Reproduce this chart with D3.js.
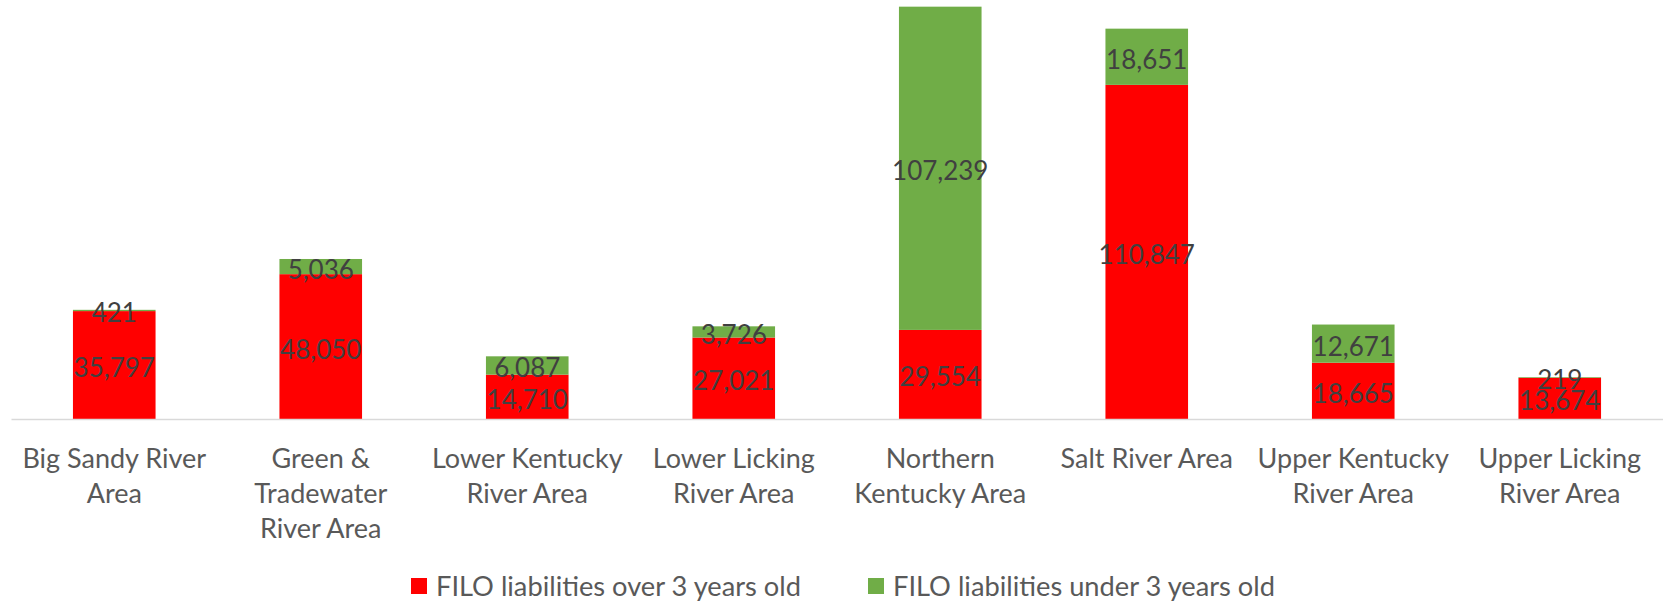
<!DOCTYPE html>
<html>
<head>
<meta charset="utf-8">
<script src="https://cdn.jsdelivr.net/npm/d3@7"></script>
<style>
  body { margin: 0; background: #fff; }
  svg { display: block; }
</style>
</head>
<body>
<svg id="chart"></svg>
<script>
// data
const categories = [
  "Big Sandy River|Area",
  "Green &|Tradewater|River Area",
  "Lower Kentucky|River Area",
  "Lower Licking|River Area",
  "Northern|Kentucky Area",
  "Salt River Area",
  "Upper Kentucky|River Area",
  "Upper Licking|River Area"
];
const overThree = [35797, 48050, 14710, 27021, 29554, 110847, 18665, 13674];
const underThree = [421, 5036, 6087, 3726, 107239, 18651, 12671, 219];
const seriesNames = ["FILO liabilities over 3 years old", "FILO liabilities under 3 years old"];
const seriesColors = ["#ff0000", "#70ad47"];

const width = 1663, height = 604;
const baseY = 419;
const font = "Lato, 'Liberation Sans', sans-serif";

const svg = d3.select("#chart")
    .attr("width", width)
    .attr("height", height);

// table for the stack layout
const rows = categories.map((c, i) => ({ cat: c, over: overThree[i], under: underThree[i] }));
const stack = d3.stack().keys(["over", "under"]);
const layers = stack(rows);

const x = d3.scaleBand()
    .domain(categories)
    .range([11, 1663])
    .paddingInner(0.6)
    .paddingOuter(0.3);

const y = d3.scaleLinear()
    .domain([0, 140000])
    .range([baseY, -3]);

// bars
const layer = svg.append("g")
    .selectAll("g")
    .data(layers)
    .join("g")
    .attr("fill", (d, i) => seriesColors[i]);

layer.selectAll("rect")
    .data(d => d)
    .join("rect")
    .attr("x", d => x(d.data.cat))
    .attr("y", d => y(d[1]))
    .attr("width", x.bandwidth())
    .attr("height", d => y(d[0]) - y(d[1]));

// axis
const axis = svg.append("g")
    .attr("transform", `translate(0, ${baseY})`)
    .call(d3.axisBottom(x).tickSize(0).tickSizeOuter(0));

axis.select(".domain")
    .attr("stroke", "#d9d9d9")
    .attr("stroke-width", 1.5);

axis.selectAll(".tick text").each(function(d) {
    let t = d3.select(this);
    t.text("")
        .attr("font-size", 27)
        .attr("font-family", font)
        .attr("fill", "#595959")
        .attr("dy", null);
    d.split("|").forEach((line, k) => {
        t.append("tspan")
            .attr("x", 0)
            .attr("y", 49 + k * 35)
            .text(line);
    });
});

// data labels centred in each segment
const fmt = d3.format(",");
layer.selectAll("text")
    .data(d => d)
    .join("text")
    .attr("x", d => x(d.data.cat) + x.bandwidth() / 2)
    .attr("y", d => (y(d[0]) + y(d[1])) / 2 + 2)
    .attr("text-anchor", "middle")
    .attr("dominant-baseline", "central")
    .attr("font-size", 26)
    .attr("font-family", font)
    .attr("fill", "#404040")
    .text(d => fmt(d[1] - d[0]));

// legend
const legendX = [411, 868];
const legendW = [365, 382];
const legend = svg.append("g")
    .selectAll("g")
    .data(seriesNames)
    .join("g")
    .attr("transform", (d, i) => `translate(${legendX[i]}, 578)`);

legend.append("rect")
    .attr("width", 16)
    .attr("height", 16)
    .attr("fill", (d, i) => seriesColors[i]);

legend.append("text")
    .attr("x", 25)
    .attr("y", 18)
    .attr("font-size", 26)
    .attr("font-family", font)
    .attr("fill", "#595959")
    .attr("textLength", (d, i) => legendW[i])
    .attr("lengthAdjust", "spacingAndGlyphs")
    .text(d => d);
</script>
</body>
</html>
